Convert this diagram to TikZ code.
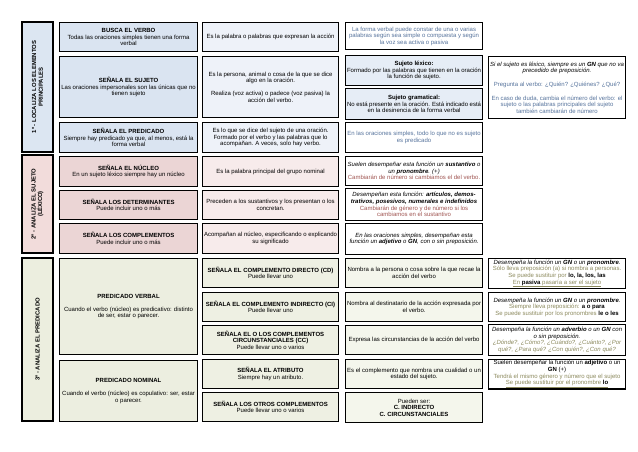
\documentclass[tikz,border=0pt]{standalone}
\usepackage{fontspec}
\setmainfont{Liberation Sans}
\usepackage{tikz}
\usetikzlibrary{positioning}
\definecolor{blL}{HTML}{DCE6F2}
\definecolor{blA}{HTML}{DAE4F1}
\definecolor{blB}{HTML}{EEF2F9}
\definecolor{blC}{HTML}{E6EDF6}
\definecolor{blT}{HTML}{56739C}
\definecolor{rdL}{HTML}{F2DCDB}
\definecolor{rdA}{HTML}{EBD5D5}
\definecolor{rdB}{HTML}{F7EBEB}
\definecolor{rdT}{HTML}{A05552}
\definecolor{olL}{HTML}{ECEEDF}
\definecolor{olA}{HTML}{ECEEE0}
\definecolor{olB}{HTML}{EEF0E3}
\definecolor{olC}{HTML}{F4F6EC}
\definecolor{olT}{HTML}{8C8A5E}

\begin{document}
\begin{tikzpicture}[x=1pt,y=-1pt,
  cell/.style={draw=black, line width=1.1pt, align=flush center, inner sep=1pt,
               anchor=north west, font=\fontsize{6}{6.6}\selectfont},
  lbl/.style={cell, anchor=center, rotate=90, minimum height=31pt,
              font=\bfseries\fontsize{5.9}{6.6}\selectfont},
  colA/.style={cell, text width=135pt, minimum width=138pt},
  colB/.style={cell, text width=133pt, minimum width=136pt},
  colC/.style={cell, text width=134pt, minimum width=137pt},
  colD/.style={cell, text width=134pt, minimum width=137pt}]
  \useasboundingbox (0,0) rectangle (638,452);

  % 1 - elementos principales
  \node[lbl, fill=blL, minimum width=130pt] (l1) at (37.5,87)
       {1º - LOCALIZA LOS ELEMENTOS\\PRINCIPALES};
  \node[colA, fill=blA, minimum height=29pt] (a1) at (59,22)
       {\textbf{BUSCA EL VERBO}\\Todas las oraciones simples tienen una forma verbal};
  \node[colA, fill=blA, minimum height=61pt] (a2) at (59,56)
       {\textbf{SEÑALA EL SUJETO}\\Las oraciones impersonales son las únicas que no tienen sujeto};
  \node[colA, fill=blA, minimum height=30pt] (a3) at (59,122)
       {\textbf{SEÑALA EL PREDICADO}\\Siempre hay predicado ya que, al menos, está la forma verbal};
  \node[colB, fill=blB, minimum height=29pt] (b1) at (202,22)
       {Es la palabra o palabras que expresan la acción};
  \node[colB, fill=blB, minimum height=61pt] (b2) at (202,56)
       {Es la persona, animal o cosa de la que se dice algo en la oración.\\[6pt]
        Realiza (voz activa) o padece (voz pasiva) la acción del verbo.};
  \node[colB, fill=blB, minimum height=30pt] (b3) at (202,122)
       {Es lo que se dice del sujeto de una oración. Formado por el verbo y las palabras que lo acompañan. A veces, solo hay verbo.};
  \node[colC, fill=white, text=blT, minimum height=27pt] (c1) at (345,22)
       {La forma verbal puede constar de una o varias palabras según sea simple o compuesta y según la voz sea activa o pasiva};
  \node[colC, fill=blC, minimum height=30pt] (c2) at (345,55)
       {\textbf{Sujeto léxico:}\\Formado por las palabras que tienen en la oración la función de sujeto.};
  \node[colC, fill=blC, minimum height=31pt] (c3) at (345,88)
       {\textbf{Sujeto gramatical:}\\No está presente en la oración. Está indicado está en la desinencia de la forma verbal};
  \node[colC, fill=white, text=blT, minimum height=30pt] (c4) at (345,122)
       {En las oraciones simples, todo lo que no es sujeto es predicado};
  \node[colD, fill=white, text=blT, minimum height=62pt] (d1) at (488,56)
       {{\color{black}\itshape Si el sujeto es léxico, siempre es un \textbf{GN} que no va precedido de preposición.}\\[7pt]
        Pregunta al verbo: ¿Quién? ¿Quiénes? ¿Qué?\\[7pt]
        En caso de duda, cambia el número del verbo: el sujeto o las palabras principales del sujeto también cambiarán de número};

  % 2 - sujeto lexico
  \node[lbl, fill=rdL, minimum width=98pt] (l2) at (37.5,204)
       {2º - ANALIZA EL SUJETO\\(LÉXICO)};
  \node[colA, fill=rdA, minimum height=30pt] (a4) at (59,156)
       {\textbf{SEÑALA EL NÚCLEO}\\En un sujeto léxico siempre hay un núcleo};
  \node[colA, fill=rdA, minimum height=29pt] (a5) at (59,190)
       {\textbf{SEÑALA LOS DETERMINANTES}\\Puede incluir uno o más};
  \node[colA, fill=rdA, minimum height=30pt] (a6) at (59,223)
       {\textbf{SEÑALA LOS COMPLEMENTOS}\\Puede incluir uno o más};
  \node[colB, fill=rdB, minimum height=30pt] (b4) at (202,156)
       {Es la palabra principal del grupo nominal};
  \node[colB, fill=rdB, minimum height=29pt] (b5) at (202,190)
       {Preceden a los sustantivos y los presentan o los concretan.};
  \node[colB, fill=rdB, minimum height=30pt] (b6) at (202,223)
       {Acompañan al núcleo, especificando o explicando su significado};
  \node[colC, fill=white, minimum height=29pt] (c5) at (345,156)
       {\itshape Suelen desempeñar esta función un \textbf{sustantivo} o un \textbf{pronombre}. (+)\\
        \color{rdT}\upshape Cambiarán de número si cambiamos el del verbo.};
  \node[colC, fill=white, minimum height=32pt] (c6) at (345,188)
       {\itshape Desempeñan esta función: \textbf{artículos, demos-}\\
        \textbf{trativos, posesivos, numerales e indefinidos}\\
        \color{rdT}\upshape Cambiarán de género y de número si los\\cambiamos en el sustantivo};
  \node[colC, fill=white, minimum height=31pt] (c7) at (345,223)
       {\itshape En las oraciones simples, desempeñan esta función un \textbf{adjetivo} o \textbf{GN}, con o sin preposición.};

  % 3 - predicado
  \node[lbl, fill=olL, minimum width=163pt] (l3) at (37.5,339.5)
       {3º - ANALIZA EL PREDICADO};
  \node[colA, fill=olA, minimum height=96pt] (pv) at (59,258)
       {\textbf{PREDICADO VERBAL}\\[6pt]Cuando el verbo (núcleo) es predicativo: distinto de ser, estar o parecer.};
  \node[colA, fill=olA, minimum height=61pt] (pn) at (59,360)
       {\textbf{PREDICADO NOMINAL}\\[6pt]Cuando el verbo (núcleo) es copulativo: ser, estar o parecer.};
  \node[colB, fill=olB, minimum height=29pt] (b7) at (202,258)
       {\textbf{SEÑALA EL COMPLEMENTO DIRECTO (CD)}\\Puede llevar uno};
  \node[colB, fill=olB, minimum height=29pt] (b8) at (202,292)
       {\textbf{SEÑALA EL COMPLEMENTO INDIRECTO (CI)}\\Puede llevar uno};
  \node[colB, fill=olB, minimum height=29pt] (b9) at (202,325)
       {\textbf{SEÑALA EL O LOS COMPLEMENTOS\\CIRCUNSTANCIALES (CC)}\\Puede llevar uno o varios};
  \node[colB, fill=olB, minimum height=29pt] (b10) at (202,359)
       {\textbf{SEÑALA EL ATRIBUTO}\\Siempre hay un atributo.};
  \node[colB, fill=olB, minimum height=29pt] (b11) at (202,392)
       {\textbf{SEÑALA LOS OTROS COMPLEMENTOS}\\Puede llevar uno o varios};
  \node[colC, fill=olC, minimum height=29pt] (c8) at (345,258)
       {Nombra a la persona o cosa sobre la que recae la acción del verbo};
  \node[colC, fill=olC, minimum height=29pt] (c9) at (345,292)
       {Nombra al destinatario de la acción expresada por el verbo.};
  \node[colC, fill=olC, minimum height=29pt] (c10) at (345,325)
       {Expresa las circunstancias de la acción del verbo};
  \node[colC, fill=olC, minimum height=29pt] (c11) at (345,359)
       {Es el complemento que nombra una cualidad o un estado del sujeto.};
  \node[colC, fill=olC, minimum height=30pt] (c12) at (345,392)
       {Pueden ser:\\\textbf{C. INDIRECTO}\\\textbf{C. CIRCUNSTANCIALES}};
  \node[colD, fill=white, text=olT, minimum height=30pt] (d2) at (488,258)
       {{\color{black}\itshape Desempeña la función un \textbf{GN} o un \textbf{pronombre}.}\\
        Sólo lleva preposición (a) si nombra a personas.\\
        Se puede sustituir por {\color{black}\textbf{lo, la, los, las}}\\
        \underline{En {\color{black}\textbf{pasiva}} pasaría a ser el sujeto}};
  \node[colD, fill=white, text=olT, minimum height=29pt] (d3) at (488,292)
       {{\color{black}\itshape Desempeña la función un \textbf{GN} o un \textbf{pronombre}.}\\
        Siempre lleva preposición: {\color{black}\textbf{a o para}}\\
        Se puede sustituir por los pronombres {\color{black}\textbf{le o les}}};
  \node[colD, fill=white, text=olT, minimum height=31pt] (d4) at (488,324)
       {{\color{black}\itshape Desempeña la función un \textbf{adverbio} o un \textbf{GN} con o sin preposición.}\\
        \itshape ¿Dónde?, ¿Cómo?, ¿Cuándo?, ¿Cuánto?, ¿Por qué?, ¿Para qué? ¿Con quién?, ¿Con qué?};
  \node[colD, fill=white, text=olT, minimum height=29pt] (d5) at (488,359)
       {{\color{black}Suelen desempeñar la función un \textbf{adjetivo} o un \textbf{GN} (+)}\\
        Tendrá el mismo género y número que el sujeto\\
        \underline{Se puede sustituir por el pronombre {\color{black}\textbf{lo}}}};
\end{tikzpicture}
\end{document}
